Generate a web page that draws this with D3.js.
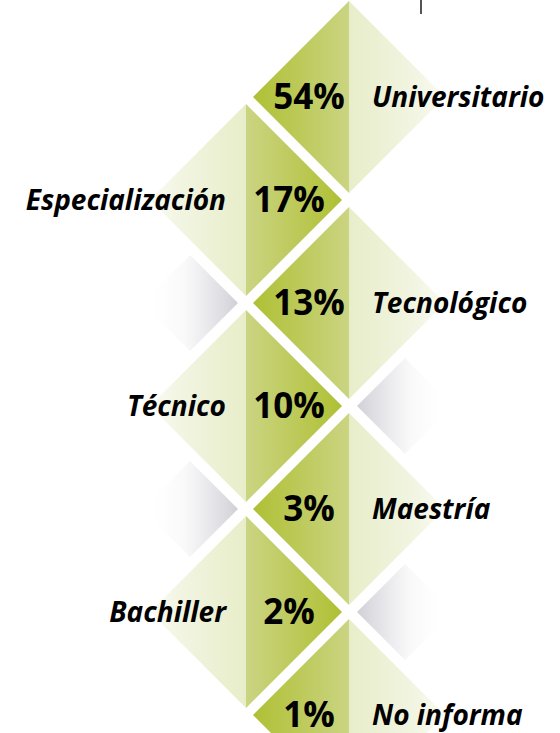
<!DOCTYPE html>
<html>
<head>
<meta charset="utf-8">
<script src="https://cdn.jsdelivr.net/npm/d3@7"></script>
<style>
  body { margin: 0; background: #fff; }
  text { font-family: "Open Sans", sans-serif; font-weight: 700; fill: #000; }
</style>
</head>
<body>
<div id="container"></div>
<script>
/* CONSTANTS AND GLOBALS */
const width = 560;
const height = 733;

// data
const categories = ["Universitario", "Especialización", "Tecnológico", "Técnico", "Maestría", "Bachiller", "No informa"];
const percents = [54, 17, 13, 10, 3, 2, 1];

const half = 96;       // half diagonal of each diamond
const colRight = 349;  // centre line of right-hand diamonds
const colLeft = 246;   // centre line of left-hand diamonds

var svg = d3.select("#container")
  .append("svg")
  .attr("width", width)
  .attr("height", height);

// vertical positions: one step per category
var y = d3.scalePoint()
  .domain(categories)
  .range([97, 97 + 103 * (categories.length - 1)]);

var side = function(i) { return i % 2 === 0 ? "right" : "left"; };
var cx = function(i) { return side(i) === "right" ? colRight : colLeft; };

// GRADIENTS
var defs = svg.append("defs");
function grad(id, stops) {
  var g = defs.append("linearGradient").attr("id", id)
    .attr("x1", 0).attr("x2", 1).attr("y1", 0).attr("y2", 0);
  stops.forEach(function(s) {
    g.append("stop").attr("offset", s[0]).attr("stop-color", s[1]).attr("stop-opacity", s[2] == null ? 1 : s[2]);
  });
}
grad("innerR", [[0, "#afc034"], [1, "#cbd482"]]);
grad("innerL", [[0, "#cbd482"], [1, "#afc034"]]);
grad("outerR", [[0, "#e8edc9"], [0.7, "#f2f5e2"], [1, "#fafbf3"]]);
grad("outerL", [[0, "#fafbf3"], [0.3, "#f2f5e2"], [1, "#e8edc9"]]);
grad("shadowL", [[0, "#ffffff", 0], [0.45, "#d6d6dc", 0.15], [1, "#cdcdd4", 0.95]]);
grad("shadowR", [[0, "#cdcdd4", 0.95], [0.55, "#d6d6dc", 0.15], [1, "#ffffff", 0]]);

// SHADOWS beside the gaps between same-side diamonds
var shadowSize = 48;
var gaps = d3.range(1, categories.length - 2).map(function(i) {
  return { i: i, x: cx(i), y: (y(categories[i]) + y(categories[i + 2])) / 2 };
});
svg.append("g").selectAll("path")
  .data(gaps)
  .enter()
  .append("path")
  .attr("d", function(d) {
    var dir = side(d.i) === "left" ? -1 : 1;
    var vx = d.x + dir * 8, mx = vx + dir * shadowSize;
    return "M" + vx + "," + d.y + "L" + mx + "," + (d.y - shadowSize) +
      "L" + (vx + dir * 2 * shadowSize) + "," + d.y + "L" + mx + "," + (d.y + shadowSize) + "Z";
  })
  .attr("fill", function(d) { return side(d.i) === "left" ? "url(#shadowL)" : "url(#shadowR)"; });

// DIAMONDS: each one split into an inner (darker) and outer (pale) half
var diamonds = svg.append("g").selectAll("g")
  .data(categories)
  .enter()
  .append("g");

diamonds.append("path")
  .attr("d", function(d, i) {
    var x0 = cx(i), y0 = y(d), dir = side(i) === "right" ? -1 : 1;
    return "M" + x0 + "," + (y0 - half) + "L" + (x0 + dir * half) + "," + y0 + "L" + x0 + "," + (y0 + half) + "Z";
  })
  .attr("fill", function(d, i) { return side(i) === "right" ? "url(#innerR)" : "url(#innerL)"; });

diamonds.append("path")
  .attr("d", function(d, i) {
    var x0 = cx(i), y0 = y(d), dir = side(i) === "right" ? 1 : -1;
    return "M" + x0 + "," + (y0 - half) + "L" + (x0 + dir * half) + "," + y0 + "L" + x0 + "," + (y0 + half) + "Z";
  })
  .attr("fill", function(d, i) { return side(i) === "right" ? "url(#outerR)" : "url(#outerL)"; });

// PERCENT LABELS
diamonds.append("text")
  .attr("x", function(d, i) { return side(i) === "right" ? colRight - 40 : colLeft + 43; })
  .attr("y", function(d) { return y(d); })
  .attr("dy", "0.34em")
  .attr("text-anchor", "middle")
  .style("font-size", "35px")
  .text(function(d, i) { return percents[i] + "%"; });

// CATEGORY LABELS
diamonds.append("text")
  .attr("x", function(d, i) { return side(i) === "right" ? colRight + 23 : colLeft - 20; })
  .attr("y", function(d) { return y(d); })
  .attr("dy", "0.34em")
  .attr("text-anchor", function(d, i) { return side(i) === "right" ? "start" : "end"; })
  .style("font-size", "28px")
  .style("font-style", "italic")
  .text(function(d) { return d; });

// small mark at the top edge
svg.append("line")
  .attr("x1", 421).attr("x2", 421).attr("y1", 0).attr("y2", 14)
  .attr("stroke", "#555").attr("stroke-width", 2);
</script>
</body>
</html>
